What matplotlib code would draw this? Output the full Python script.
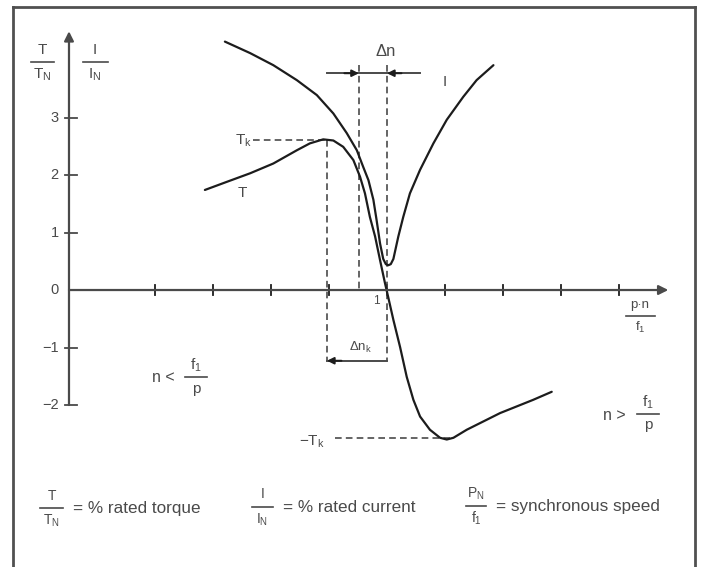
import matplotlib
matplotlib.use('Agg')
import matplotlib.pyplot as plt
from matplotlib.lines import Line2D

plt.rcParams['font.family'] = ['Liberation Sans', 'DejaVu Sans']
plt.rcParams['mathtext.default'] = 'regular'

W, H = 704, 567

# torque curve: speed n/ns and T/TN
torque_n = [0.372, 0.447, 0.528, 0.608, 0.689, 0.734, 0.780, 0.815, 0.849, 0.884,
            0.907, 0.924, 0.941, 0.959, 0.976, 0.993, 1.004, 1.022, 1.045, 1.068,
            1.091, 1.114, 1.148, 1.183, 1.206, 1.229, 1.275, 1.390, 1.504, 1.568]
torque_t = [1.74, 1.88, 2.03, 2.20, 2.43, 2.55, 2.62, 2.60, 2.49, 2.26,
            1.97, 1.68, 1.27, 0.93, 0.52, 0.12, -0.12, -0.52, -0.99, -1.51,
            -1.91, -2.20, -2.43, -2.57, -2.60, -2.57, -2.43, -2.14, -1.91, -1.77]

# current curve: speed n/ns and I/IN
current_n = [0.441, 0.528, 0.608, 0.689, 0.758, 0.815, 0.861, 0.896, 0.918, 0.936,
             0.953, 0.964, 0.976, 0.987, 0.996, 1.004, 1.013, 1.022, 1.039, 1.056,
             1.079, 1.114, 1.160, 1.206, 1.263, 1.309, 1.367]
current_i = [4.32, 4.12, 3.91, 3.65, 3.39, 3.07, 2.73, 2.43, 2.14, 1.91,
             1.57, 1.22, 0.81, 0.54, 0.45, 0.43, 0.45, 0.54, 0.93, 1.27,
             1.68, 2.09, 2.55, 2.96, 3.36, 3.65, 3.91]

x_ticks = [0.2, 0.4, 0.6, 0.8, 1.0, 1.2, 1.4, 1.6, 1.8]
y_ticks = [-2, -1, 0, 1, 2, 3]
y_ticklabels = ['\u22122', '\u22121', '0', '1', '2', '3']

t_k = 2.61        # breakdown torque (motor)
t_kg = -2.58      # breakdown torque (generator)
n_k = 0.793       # speed at breakdown torque
n_rated = 0.903   # rated speed
n_gen = 1.229     # speed at generator breakdown torque
dn_level = 3.77   # height of the delta-n arrow
dnk_level = -1.23 # height of the delta-nk arrow
dash_top = 3.91

axis_x = -0.0966
ink = '#1c1c1c'
grey = '#4a4a4a'

fig = plt.figure(figsize=(W / 100, H / 100), dpi=100)
ax = fig.add_axes([0, 0, 1, 1])
ax.set_xlim(-0.3345, 2.0931)
ax.set_ylim(-4.817, 5.0435)
ax.axis('off')

# axes with arrows
ax.annotate('', xy=(axis_x, 4.5), xytext=(axis_x, -2.0),
            arrowprops=dict(arrowstyle='-|>', lw=1.6, color=grey,
                            mutation_scale=14, shrinkA=0, shrinkB=0))
ax.annotate('', xy=(1.97, 0), xytext=(axis_x, 0),
            arrowprops=dict(arrowstyle='-|>', lw=1.6, color=grey,
                            mutation_scale=14, shrinkA=0, shrinkB=0))
for t, lab in zip(y_ticks, y_ticklabels):
    if t != 0:
        ax.plot([axis_x - 0.014, axis_x + 0.028], [t, t], color=grey, lw=1.3)
    ax.text(axis_x - 0.035, t, lab, ha='right', va='center', fontsize=10.5, color=grey)
for xt in x_ticks:
    ax.plot([xt, xt], [-0.09, 0.09], color=ink, lw=1.3)

# dashed construction lines
dash = dict(color=grey, lw=1.2, linestyle=(0, (4, 2.5)))
ax.plot([0.538, n_k], [t_k, t_k], **dash)
ax.plot([n_k, n_k], [t_k, dnk_level], **dash)
ax.plot([n_rated, n_rated], [dash_top, 0], **dash)
ax.plot([1.0, 1.0], [dash_top, dnk_level], **dash)
ax.plot([0.821, n_gen], [t_kg, t_kg], **dash)

# curves
ax.plot(current_n, current_i, color=ink, lw=1.6, solid_capstyle='round',
        solid_joinstyle='round')
ax.plot(torque_n, torque_t, color=ink, lw=1.6, solid_capstyle='round',
        solid_joinstyle='round')

# delta n arrows
ax.plot([n_k, 1.114], [dn_level, dn_level], color=grey, lw=1.4)
arr = dict(arrowstyle='-|>', lw=1.4, color=ink, mutation_scale=10, shrinkA=0, shrinkB=0)
ax.annotate('', xy=(n_rated, dn_level), xytext=(n_rated - 0.05, dn_level), arrowprops=arr)
ax.annotate('', xy=(1.0, dn_level), xytext=(1.05, dn_level), arrowprops=arr)
ax.plot([n_k, 1.0], [dnk_level, dnk_level], color=grey, lw=1.4)
ax.annotate('', xy=(n_k, dnk_level), xytext=(n_k + 0.05, dnk_level), arrowprops=arr)


def ftext(x, y, s, size=10.5, ha='center', color=grey):
    fig.text(x / W, 1 - y / H, s, ha=ha, va='center', fontsize=size, color=color)


def frac(xc, y_bar, num, den, half, size=10.5, dy=12.5):
    ftext(xc, y_bar - dy, num, size)
    fig.add_artist(Line2D([(xc - half) / W, (xc + half) / W], [1 - y_bar / H] * 2,
                          color=grey, lw=1.2))
    ftext(xc, y_bar + dy, den, size)


# axis titles
frac(42, 62, 'T', 'T$_N$', 11.5, size=11)
frac(95, 62, 'I', 'I$_N$', 12.5, size=11)
frac(640, 316, 'p\u00b7n', 'f$_1$', 14.5, size=9.5, dy=11.5)

# curve annotations
ftext(243, 141, 'T$_k$', 11)
ftext(242, 193, 'T', 11)
ftext(445, 82, 'I', 11)
ftext(386, 51, '\u0394n', 12)
ftext(361, 347, '\u0394n$_k$', 9.5)
ftext(376, 301, '1', 8.5)
ftext(312, 442, '\u2212T$_k$', 11)

ftext(163, 378, 'n <', 11.5)
frac(196, 377, 'f$_1$', 'p', 11, size=11, dy=11.5)
ftext(614, 415, 'n >', 11.5)
frac(648, 414, 'f$_1$', 'p', 11, size=11, dy=11.5)

# legend row
frac(51.5, 508, 'T', 'T$_N$', 11.5, size=10)
ftext(73, 508, '= % rated torque', 12.3, ha='left')
frac(262.5, 507, 'I', 'I$_N$', 10.5, size=10)
ftext(283, 507, '= % rated current', 12.3, ha='left')
frac(476, 506, 'P$_N$', 'f$_1$', 10, size=10)
ftext(496, 506, '= synchronous speed', 12.3, ha='left')

# frame
for xs, ys in [([13, 13], [7, 567]), ([13, 695], [7, 7]), ([695, 695], [7, 567])]:
    fig.add_artist(Line2D([v / W for v in xs], [1 - v / H for v in ys],
                          color='#505050', lw=2.0))

fig.savefig('out.png', dpi=100, facecolor='white')
